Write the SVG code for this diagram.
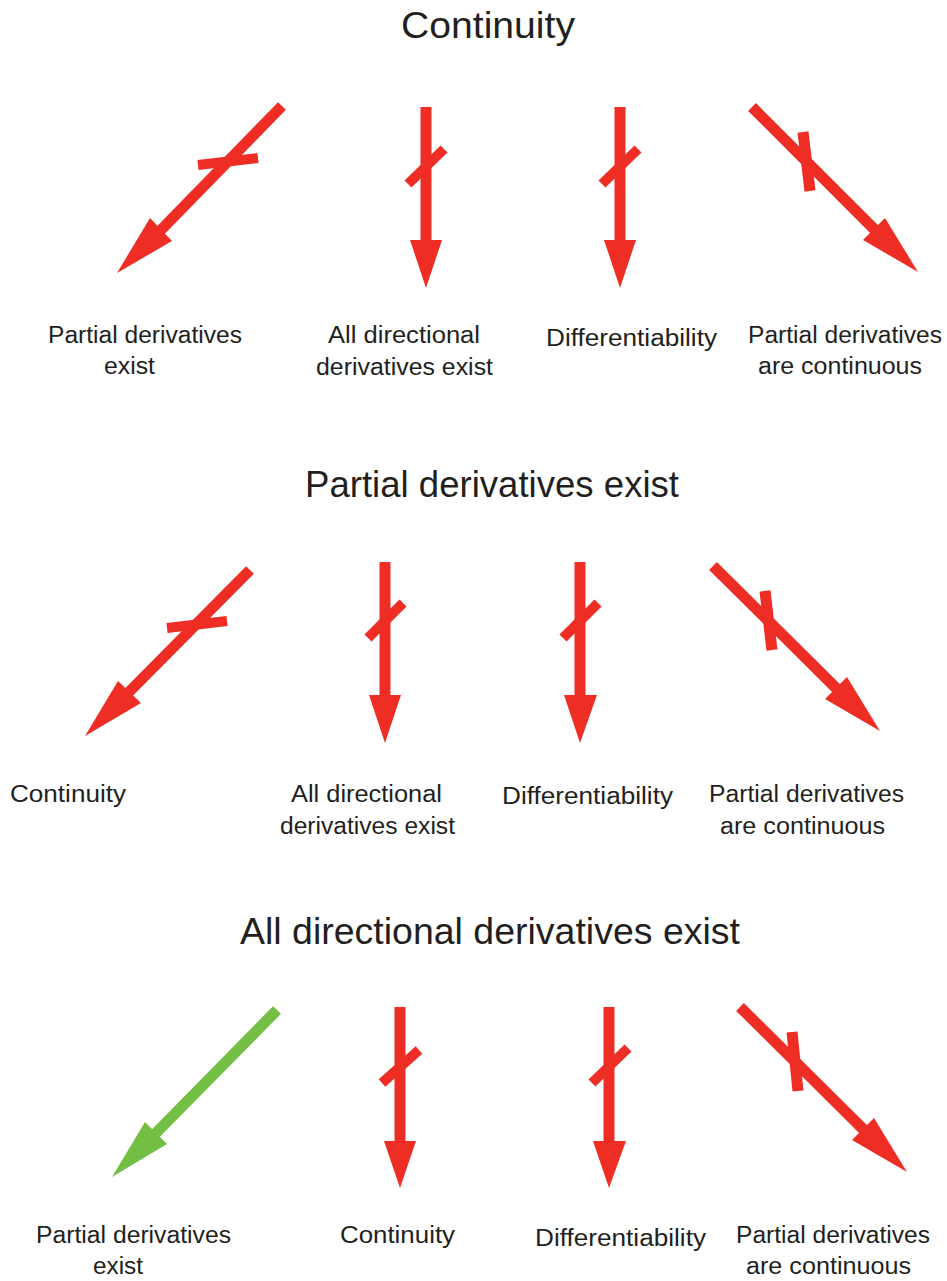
<svg xmlns="http://www.w3.org/2000/svg" width="947" height="1281" viewBox="0 0 947 1281">
<style>
text{font-family:"Liberation Sans",Arial,sans-serif;fill:#231F20}
.t{font-size:37px}
.l{font-size:23px}
.s{stroke:#EE2E24;stroke-width:11;fill:none}
.x{stroke:#EE2E24;stroke-width:10;fill:none}
.h{fill:#EE2E24}
.sg{stroke:#72BF44;stroke-width:11;fill:none}
.hg{fill:#72BF44}
</style>
<rect width="947" height="1281" fill="#fff"/>
<g id="title1"><text class="t" x="401" y="38" textLength="174" lengthAdjust="spacingAndGlyphs">Continuity</text></g>
<g id="title2"><text class="t" x="305" y="497" textLength="374" lengthAdjust="spacingAndGlyphs">Partial derivatives exist</text></g>
<g id="title3"><text class="t" x="240" y="944" textLength="500" lengthAdjust="spacingAndGlyphs">All directional derivatives exist</text></g>

<g id="r1n1"><text class="l" x="48" y="343" textLength="194" lengthAdjust="spacingAndGlyphs">Partial derivatives</text><text class="l" x="104" y="374" textLength="51" lengthAdjust="spacingAndGlyphs">exist</text></g>
<g id="r1n2"><text class="l" x="328" y="343" textLength="152" lengthAdjust="spacingAndGlyphs">All directional</text><text class="l" x="316" y="375" textLength="177" lengthAdjust="spacingAndGlyphs">derivatives exist</text></g>
<g id="r1n3"><text class="l" x="546" y="346" textLength="171" lengthAdjust="spacingAndGlyphs">Differentiability</text></g>
<g id="r1n4"><text class="l" x="748" y="343" textLength="194" lengthAdjust="spacingAndGlyphs">Partial derivatives</text><text class="l" x="758" y="374" textLength="164" lengthAdjust="spacingAndGlyphs">are continuous</text></g>

<g id="r2n1"><text class="l" x="10" y="802" textLength="116" lengthAdjust="spacingAndGlyphs">Continuity</text></g>
<g id="r2n2"><text class="l" x="291" y="802" textLength="151" lengthAdjust="spacingAndGlyphs">All directional</text><text class="l" x="280" y="834" textLength="175" lengthAdjust="spacingAndGlyphs">derivatives exist</text></g>
<g id="r2n3"><text class="l" x="502" y="804" textLength="171" lengthAdjust="spacingAndGlyphs">Differentiability</text></g>
<g id="r2n4"><text class="l" x="709" y="802" textLength="195" lengthAdjust="spacingAndGlyphs">Partial derivatives</text><text class="l" x="720" y="834" textLength="165" lengthAdjust="spacingAndGlyphs">are continuous</text></g>

<g id="r3n1"><text class="l" x="36" y="1243" textLength="195" lengthAdjust="spacingAndGlyphs">Partial derivatives</text><text class="l" x="93" y="1274" textLength="50" lengthAdjust="spacingAndGlyphs">exist</text></g>
<g id="r3n2"><text class="l" x="340" y="1243" textLength="115" lengthAdjust="spacingAndGlyphs">Continuity</text></g>
<g id="r3n3"><text class="l" x="535" y="1246" textLength="171" lengthAdjust="spacingAndGlyphs">Differentiability</text></g>
<g id="r3n4"><text class="l" x="736" y="1243" textLength="194" lengthAdjust="spacingAndGlyphs">Partial derivatives</text><text class="l" x="746" y="1274" textLength="165" lengthAdjust="spacingAndGlyphs">are continuous</text></g>

<g id="connectors">
<g id="r1a1"><line class="s" x1="282" y1="106" x2="158" y2="233"/><polygon class="h" points="150,218 172,241 117,273"/><line class="x" x1="198" y1="165" x2="258" y2="158"/></g>
<g id="r1a2"><line class="s" x1="426" y1="107" x2="426" y2="242"/><polygon class="h" points="410,240 442,240 426,288"/><line class="x" x1="408" y1="184" x2="444" y2="149"/></g>
<g id="r1a3"><line class="s" x1="620" y1="107" x2="620" y2="242"/><polygon class="h" points="604,240 636,240 620,288"/><line class="x" x1="602" y1="184" x2="638" y2="149"/></g>
<g id="r1a4"><line class="s" x1="752" y1="107" x2="876" y2="231"/><polygon class="h" points="885,218 863,240 918,272"/><line class="x" x1="803" y1="132" x2="810" y2="191" style="stroke-width:11"/></g>

<g id="r2a1"><line class="s" x1="250" y1="570" x2="127" y2="694"/><polygon class="h" points="118,681 141,703 85,736"/><line class="x" x1="167" y1="628" x2="227" y2="621"/></g>
<g id="r2a2"><line class="s" x1="385" y1="562" x2="385" y2="697"/><polygon class="h" points="369,695 401,695 385,743"/><line class="x" x1="368" y1="638" x2="403" y2="603"/></g>
<g id="r2a3"><line class="s" x1="580" y1="562" x2="580" y2="697"/><polygon class="h" points="564,695 597,695 580,743"/><line class="x" x1="563" y1="638" x2="598" y2="603"/></g>
<g id="r2a4"><line class="s" x1="713" y1="566" x2="838" y2="690"/><polygon class="h" points="847,677 825,699 880,731"/><line class="x" x1="765" y1="591" x2="772" y2="650" style="stroke-width:11"/></g>

<g id="r3a1"><line class="sg" x1="277" y1="1010" x2="154" y2="1135"/><polygon class="hg" points="145,1122 167,1144 112,1177"/></g>
<g id="r3a2"><line class="s" x1="400" y1="1007" x2="400" y2="1143"/><polygon class="h" points="384,1141 416,1141 400,1188"/><line class="x" x1="382" y1="1083" x2="419" y2="1050"/></g>
<g id="r3a3"><line class="s" x1="609" y1="1007" x2="609" y2="1143"/><polygon class="h" points="593,1141 626,1141 609,1188"/><line class="x" x1="592" y1="1083" x2="628" y2="1048"/></g>
<g id="r3a4"><line class="s" x1="740" y1="1007" x2="865" y2="1131"/><polygon class="h" points="874,1118 852,1140 907,1172"/><line class="x" x1="792" y1="1032" x2="798" y2="1091" style="stroke-width:11"/></g>
</g>
</svg>
